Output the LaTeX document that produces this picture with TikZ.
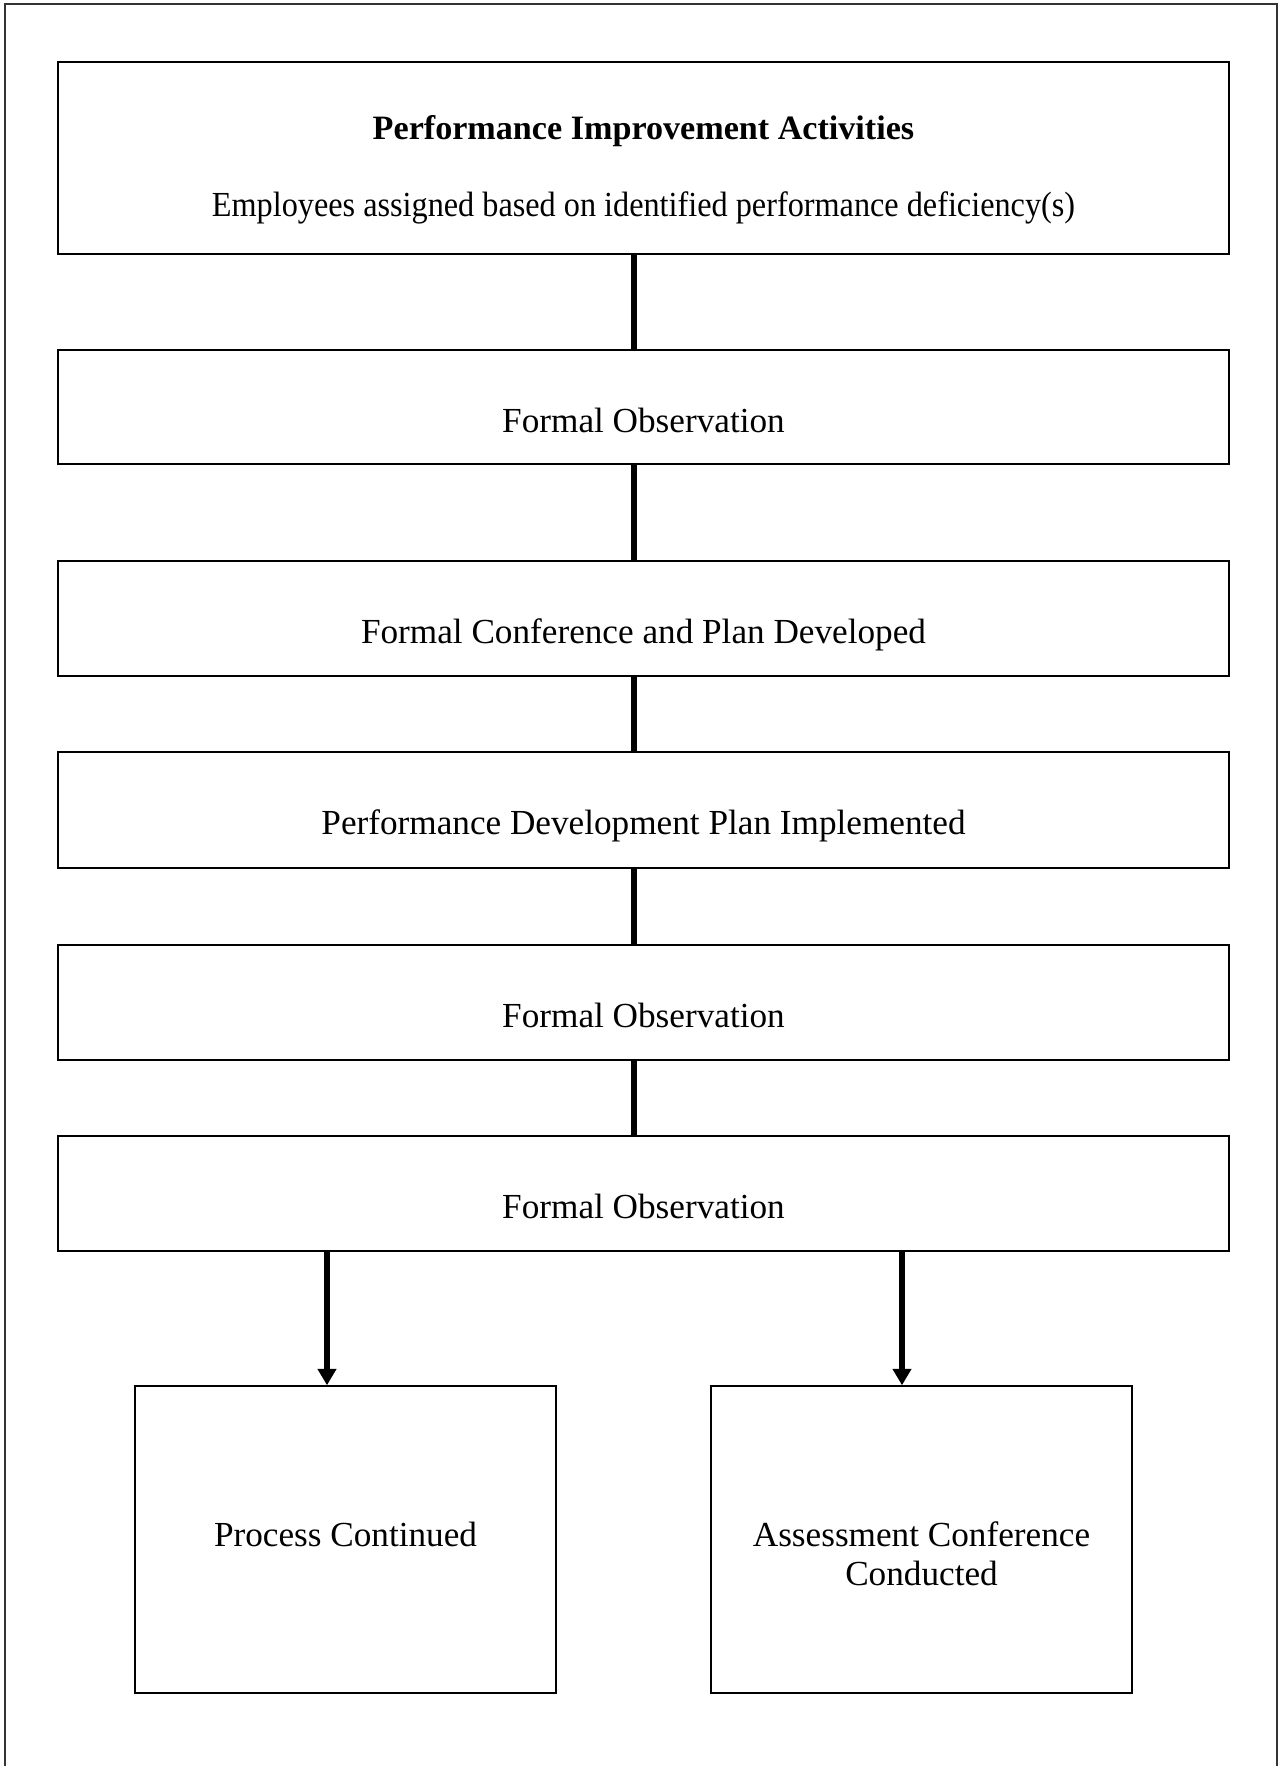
\documentclass[tikz,border=0pt]{standalone}
\usepackage{fontspec}
\setmainfont{Liberation Serif}
\usetikzlibrary{fit,arrows.meta}
\tikzset{
  box/.style={draw=black, line width=0.55pt, inner sep=0pt, fill=white},
  txt/.style={inner sep=0pt, font=\fontsize{13.2}{15}\selectfont, anchor=base},
  conn/.style={draw=black, line width=1.9pt},
  arr/.style={draw=black, line width=1.9pt, -{Triangle[width=6.8pt,length=6.2pt]}},
  frame/.style={draw=black!80, line width=0.6pt}
}
\begin{document}
\begin{tikzpicture}[x=0.375pt, y=-0.375pt]
\useasboundingbox (0,0) rectangle (1285,1766);
\draw[frame] (5,1770) -- (5,4) -- (1277,4) -- (1277,1770);
\node[box, fit={(58,62) (1229,254)}] (b1) {};
\node[box, fit={(58,350) (1229,464)}] (b2) {};
\node[box, fit={(58,561) (1229,676)}] (b3) {};
\node[box, fit={(58,752) (1229,868)}] (b4) {};
\node[box, fit={(58,945) (1229,1060)}] (b5) {};
\node[box, fit={(58,1136) (1229,1251)}] (b6) {};
\node[box, fit={(135,1386) (556,1693)}] (l7) {};
\node[box, fit={(711,1386) (1132,1693)}] (r7) {};
\node[txt, font=\fontsize{12.8}{15}\selectfont\bfseries] (t1a) at (643.5,139) {Performance Improvement Activities};
\node[txt] (t1b) at (643.5,216) {\scalebox{0.916}[1]{Employees assigned based on identified performance deficiency(s)}};
\node[txt] (t2) at (643.5,432) {Formal Observation};
\node[txt] (t3) at (643.5,643) {Formal Conference and Plan Developed};
\node[txt] (t4) at (643.5,834) {Performance Development Plan Implemented};
\node[txt] (t5) at (643.5,1027) {Formal Observation};
\node[txt] (t6) at (643.5,1218) {Formal Observation};
\node[txt] (t7) at (345.5,1546) {Process Continued};
\node[txt] (t8a) at (921.5,1546) {Assessment Conference};
\node[txt] (t8b) at (921.5,1585) {Conducted};
\coordinate (cx) at (634,0);
\coordinate (ax) at (327,0);
\coordinate (bx) at (902,0);
\draw[conn] (b1.south -| cx) -- (b2.north -| cx);
\draw[conn] (b2.south -| cx) -- (b3.north -| cx);
\draw[conn] (b3.south -| cx) -- (b4.north -| cx);
\draw[conn] (b4.south -| cx) -- (b5.north -| cx);
\draw[conn] (b5.south -| cx) -- (b6.north -| cx);
\draw[arr] (b6.south -| ax) -- (l7.north -| ax);
\draw[arr] (b6.south -| bx) -- (r7.north -| bx);
\end{tikzpicture}
\end{document}
